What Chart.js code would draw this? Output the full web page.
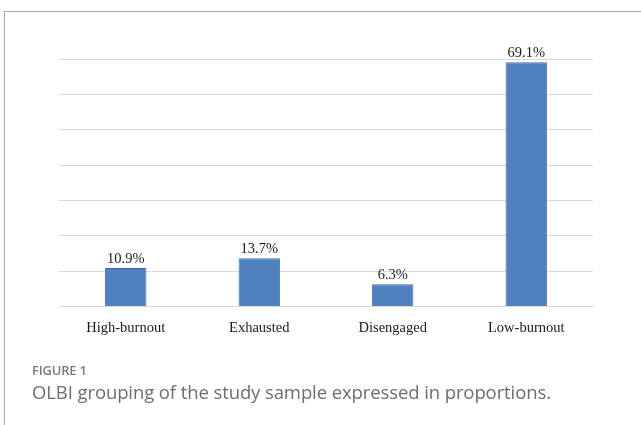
<!DOCTYPE html>
<html>
<head>
<meta charset="utf-8">
<script src="https://cdn.jsdelivr.net/npm/chart.js@4/dist/chart.umd.min.js"></script>
<style>
  html, body { margin: 0; padding: 0; background: #fff; }
  #wrap { position: relative; width: 641px; height: 425px; overflow: hidden; }
  #frame { position: absolute; left: 4px; top: 11px; right: -2px; bottom: -2px;
           border-left: 1px solid #a8a8a8; border-top: 1px solid #a8a8a8; }
  #chartBox { position: absolute; left: 0; top: 0; width: 641px; height: 425px; }
  .cap-label { position: absolute; left: 32px; top: 361px; font-family: "Open Sans", sans-serif;
               font-weight: 600; font-size: 13px; color: #7b7b7b; letter-spacing: -0.2px; }
  .cap-text { position: absolute; left: 32px; top: 379px; font-family: "Open Sans", sans-serif;
              font-weight: 400; font-size: 18.5px; color: #6e6e6e; letter-spacing: -0.1px; }
</style>
</head>
<body>
<div id="wrap">
  <div id="frame"></div>
  <div id="chartBox"><canvas id="c" width="641" height="425"></canvas></div>
  <div class="cap-label">FIGURE 1</div>
  <div class="cap-text">OLBI grouping of the study sample expressed in proportions.</div>
</div>
<script>
// OLBI groups and their share of the sample (%)
const categories = ["High-burnout", "Exhausted", "Disengaged", "Low-burnout"];
const proportions = [10.9, 13.7, 6.3, 69.1];
const yTicks = [0, 10, 20, 30, 40, 50, 60, 70];

const serif = '"Liberation Serif", "Times New Roman", serif';

// Writes each bar's value as a percentage just above it
const valueLabels = {
  id: "valueLabels",
  afterDatasetsDraw(chart) {
    const ctx = chart.ctx;
    const meta = chart.getDatasetMeta(0);
    ctx.save();
    ctx.font = "14.5px " + serif;
    ctx.fillStyle = "#1a1a1a";
    ctx.textAlign = "center";
    ctx.textBaseline = "alphabetic";
    meta.data.forEach((bar, i) => {
      ctx.fillText(proportions[i].toFixed(1) + "%", bar.x, bar.y - 5);
    });
    ctx.restore();
  }
};

new Chart(document.getElementById("c"), {
  type: "bar",
  data: {
    labels: categories,
    datasets: [{
      data: proportions,
      backgroundColor: "#4f7fbd",
      borderColor: "#416ea8",
      borderWidth: 1,
      barPercentage: 0.31,
      categoryPercentage: 1.0
    }]
  },
  options: {
    responsive: false,
    animation: false,
    devicePixelRatio: 1,
    layout: { padding: { left: 59, right: 48, top: 59, bottom: 75 } },
    plugins: { legend: { display: false }, tooltip: { enabled: false } },
    scales: {
      x: {
        grid: { display: false, drawTicks: false },
        border: { display: true, color: "#d9d9d9", width: 1 },
        ticks: {
          padding: 13,
          color: "#1a1a1a",
          font: { family: serif, size: 14.5 }
        }
      },
      y: {
        min: yTicks[0],
        max: yTicks[yTicks.length - 1],
        afterBuildTicks(axis) { axis.ticks = yTicks.map(v => ({ value: v })); },
        grid: { color: "#d9d9d9", lineWidth: 1, drawTicks: false },
        border: { display: false },
        ticks: { display: false }
      }
    }
  },
  plugins: [valueLabels]
});
</script>
</body>
</html>
